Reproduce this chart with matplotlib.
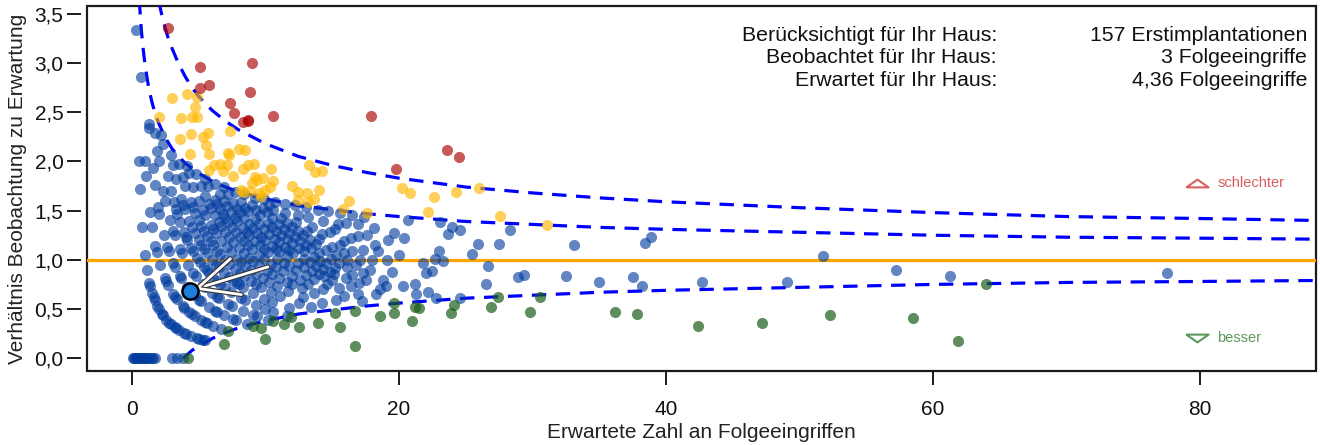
import matplotlib
matplotlib.use('Agg')
import matplotlib.pyplot as plt
import matplotlib.patheffects as pe
from matplotlib.ticker import FuncFormatter
import numpy as np

plt.rcParams['font.family'] = ['Liberation Sans', 'DejaVu Sans']

# ── colours ──
BLUE = '#003C9E'
YELLOW = '#FFB800'
RED = '#AA0000'
GREEN = '#1A5E1A'
FUNNEL = '#0000FF'
ORANGE = '#FFA500'

# ── data: expected (E) and observed (O) revisions per hospital; ratio = O / E ──
# blue hospitals (within limits), grouped by observed count: arcs_exp[k] -> E values with O = k
arcs_exp = [
    [0.05, 0.15, 0.25, 0.35, 0.45, 0.55, 0.65, 0.75, 0.85, 0.95, 1.05, 1.15, 1.3, 1.45, 1.6, 1.75, 3.0, 3.4, 3.8],
    [0.3, 0.5, 0.58, 0.75, 0.95, 1.12, 1.3, 1.36, 1.5, 1.62, 1.7, 1.9, 2.0, 2.25, 2.3, 2.55, 2.8, 2.9, 3.2, 3.3,
     3.5, 3.9, 4.05, 4.4, 4.9, 5.0, 5.3, 5.5],
    [0.7, 1.0, 1.08, 1.35, 1.5, 1.75, 1.85, 2.1, 2.45, 2.55, 2.7, 3.05, 3.2, 3.35, 3.8, 3.9, 4.3, 4.5, 4.7, 5.15,
     5.5, 5.6, 6.1, 6.7],
    [1.26, 1.28, 1.55, 1.7, 1.95, 2.05, 2.4, 2.65, 2.75, 3.1, 3.25, 3.6, 3.7, 4.15, 4.55, 4.7, 5.05, 5.2, 5.75,
     6.2, 6.35, 6.9, 7.6, 7.8, 8.6],
    [1.75, 1.9, 2.0, 2.35, 2.5, 2.85, 3.1, 3.2, 3.6, 3.75, 4.2, 4.6, 4.8, 5.3, 5.5, 6.0, 6.4, 6.5, 7.2, 7.5, 8.3,
     9.1, 9.4, 10.2],
    [2.2, 2.3, 2.7, 2.95, 3.3, 3.4, 3.9, 4.15, 4.45, 4.6, 5.1, 5.4, 5.8, 6.1, 6.6, 7.0, 7.4, 8.2, 8.5, 9.3, 10.0,
     10.6, 11.6, 3.15, 3.6, 4.05, 4.9, 5.6, 6.4],
    [2.9, 3.05, 3.3, 3.7, 3.85, 4.3, 4.5, 5.0, 5.2, 5.6, 6.0, 6.3, 6.9, 7.3, 7.9, 8.3, 9.1, 9.9, 10.5, 11.8,
     3.95, 4.7, 5.4, 6.5, 7.6, 8.0],
    [3.55, 3.8, 4.0, 4.4, 4.75, 5.0, 5.4, 5.65, 6.1, 6.6, 7.0, 7.7, 8.1, 8.9, 9.7, 10.4, 11.1, 12.5, 13.4,
     4.55, 5.2, 5.9, 6.4, 7.3, 8.4, 9.3],
    [4.1, 4.25, 4.6, 5.0, 5.3, 5.9, 6.3, 6.7, 7.1, 7.9, 8.5, 9.3, 9.8, 10.9, 11.7, 12.8, 14.2,
     5.5, 6.1, 7.4, 8.2, 8.9, 10.3],
    [4.8, 5.15, 5.45, 5.9, 6.2, 6.7, 7.0, 7.6, 8.0, 8.8, 9.5, 10.1, 11.0, 11.6, 12.7, 13.6, 15.3,
     5.75, 6.5, 7.3, 8.4, 9.1, 10.5, 12.0],
    [5.5, 5.7, 6.2, 6.6, 7.0, 7.5, 7.8, 8.4, 9.0, 9.9, 10.4, 11.3, 12.0, 13.2, 14.3, 15.9, 17.2,
     6.4, 6.8, 7.2, 8.1, 8.7, 9.5, 10.8, 12.6],
    [6.2, 6.6, 6.9, 7.4, 7.9, 8.3, 8.8, 9.6, 10.2, 10.9, 11.4, 12.3, 13.0, 14.6, 15.5, 16.9,
     7.1, 7.7, 8.6, 9.2, 9.9, 11.8, 13.6],
    [6.9, 7.2, 7.9, 8.4, 8.8, 9.4, 10.0, 10.5, 11.0, 11.6, 12.4, 13.5, 14.4, 15.0, 16.4, 18.3,
     7.6, 8.1, 9.1, 9.7, 10.8, 12.9, 14.0],
    [7.7, 8.2, 8.7, 9.2, 9.9, 10.3, 11.0, 11.5, 12.1, 12.9, 13.8, 14.3, 15.1, 16.0, 17.0, 18.6,
     8.5, 9.5, 10.7, 11.8, 13.3, 14.8],
    [8.4, 9.0, 9.6, 10.2, 10.8, 11.6, 12.0, 12.9, 13.6, 14.5, 15.2, 16.5, 17.5, 19.0,
     9.3, 10.5, 11.2, 12.5, 14.1],
    [9.2, 9.8, 10.5, 11.0, 11.8, 12.6, 13.4, 14.0, 14.9, 16.1, 17.3, 18.8,
     10.1, 11.4, 12.2, 13.0, 15.5],
    [9.9, 10.6, 11.2, 12.0, 12.8, 13.3, 14.5, 15.3, 16.8, 17.8,
     10.3, 11.6, 12.4, 13.8, 16.1],
    [10.7, 11.5, 12.3, 13.1, 14.0, 15.0, 15.9, 17.1, 19.5],
    [11.5, 12.4, 13.5, 14.2, 15.6, 16.5, 18.0],
    [12.2, 13.2, 14.8, 15.9, 17.3, 19.1],
    [13.0, 14.3, 15.2, 16.4, 18.4],
    [13.9, 15.4, 16.9, 18.2, 20.0],
    [14.7, 16.0, 17.6],
    [15.6, 16.9, 19.2],
    [16.5, 18.1],
    [17.4, 19.6],
]

# blue hospitals with larger expected counts
blue_exp = [20.7, 23.1, 24.0, 23.7, 24.6, 20.4, 28.3, 25.9, 27.5, 33.1, 38.4, 38.9, 23.0, 22.7, 23.3, 21.8,
            25.5, 26.7, 22.5, 22.0, 28.9, 29.4, 32.5, 35.0, 37.5, 38.2, 42.7, 49.1, 51.8, 26.5, 24.6, 20.3,
            21.2, 21.3, 22.2, 22.8, 57.2, 61.3, 77.5]
blue_obs = [29, 32, 32, 30, 32, 25, 37, 30, 32, 38, 45, 48, 25, 23, 23, 21,
            27, 25, 20, 19, 24, 25, 27, 27, 31, 28, 33, 38, 54, 20, 15, 15,
            16, 14, 15, 14, 51, 51, 67]

yellow_exp = [2.04, 3.02, 4.1, 4.89, 4.7, 3.69, 4.49, 4.9, 3.59, 4.39, 5.33, 5.68, 5.53, 7.36, 4.33, 5.77,
              7.25, 7.98, 8.49, 5.76, 6.12, 6.57, 7.14, 6.84, 7.57, 8.33, 8.67, 9.14, 8.99, 9.24, 9.84, 10.4,
              10.56, 8.82, 8.3, 9.52, 10.34, 12.0, 12.43, 13.1, 14.0, 12.4, 13.6, 13.27, 13.7, 14.2, 16.25,
              15.8, 17.57, 20.2, 20.8, 22.6, 22.15, 24.3, 26.0, 27.6, 31.1, 13.2, 7.18, 9.4, 9.94, 8.2, 9.7]
yellow_obs = [5, 8, 11, 13, 12, 9, 11, 12, 8, 10, 12, 13, 12, 17, 9, 12,
              15, 17, 18, 11, 12, 13, 14, 13, 14, 16, 17, 18, 16, 17, 18, 20,
              19, 15, 14, 16, 18, 21, 21, 22, 24, 20, 22, 26, 26, 27, 26,
              24, 26, 35, 35, 37, 33, 41, 45, 40, 42, 21, 15, 17, 17, 14, 16]

red_exp = [2.68, 5.07, 9.0, 5.09, 5.76, 7.31, 7.63, 8.86, 8.33, 8.71, 8.68, 10.57, 17.89, 23.58, 19.79, 24.5]
red_obs = [9, 15, 27, 14, 16, 19, 19, 24, 20, 21, 21, 26, 44, 50, 38, 50]

green_exp = [4.2, 6.9, 7.2, 9.1, 9.7, 10.0, 10.6, 11.9, 11.4, 12.5, 13.9, 15.2, 15.6, 16.7, 16.7, 18.6,
             19.6, 19.6, 21.0, 21.2, 21.5, 23.9, 24.1, 27.4, 26.9, 29.8, 30.6, 36.2, 37.8, 42.4, 47.2,
             52.3, 58.5, 61.9, 64.0]
green_obs = [0, 1, 2, 3, 3, 2, 4, 5, 4, 4, 5, 7, 5, 8, 2, 8,
             11, 9, 8, 11, 11, 11, 13, 17, 14, 14, 19, 17, 17, 14, 17,
             23, 24, 11, 48]

# own hospital
own_exp = 4.36
own_obs = 3
own_cases = 157

# funnel limits
outer_e = [2.0, 2.2, 2.5, 2.7, 3.0, 3.5, 4.0, 4.5, 5, 6, 7, 8, 10, 12.5, 15, 17.5, 20, 25, 30, 35, 40, 50, 60,
           70, 80, 88.7]
outer_up = [3.63, 3.51, 3.35, 3.26, 3.15, 2.99, 2.86, 2.75, 2.66, 2.52, 2.41, 2.32, 2.18, 2.05, 1.96, 1.89,
            1.83, 1.74, 1.68, 1.63, 1.59, 1.53, 1.48, 1.44, 1.42, 1.40]
inner_e = [0.55, 0.6, 0.7, 0.8, 0.9, 1.0, 1.25, 1.5, 1.75, 2.0, 2.5, 3, 3.5, 4, 5, 6, 7, 8, 10, 12.5, 15, 17.5,
           20, 25, 30, 35, 40, 50, 60, 70, 80, 88.7]
inner_up = [3.64, 3.53, 3.34, 3.19, 3.07, 2.96, 2.75, 2.60, 2.48, 2.39, 2.24, 2.13, 2.05, 1.98, 1.88, 1.80,
            1.74, 1.69, 1.62, 1.55, 1.51, 1.47, 1.44, 1.39, 1.36, 1.33, 1.31, 1.28, 1.25, 1.23, 1.22, 1.21]
lower_e = [3.84, 4, 4.5, 5, 6, 7, 8, 10, 12.5, 15, 17.5, 20, 25, 30, 35, 40, 50, 60, 70, 80, 88.7]
lower_lo = [0.0, 0.02, 0.08, 0.12, 0.20, 0.26, 0.31, 0.38, 0.45, 0.49, 0.53, 0.56, 0.61, 0.64, 0.67, 0.69,
            0.72, 0.75, 0.77, 0.78, 0.79]

# ── figure ──
fig = plt.figure(figsize=(13.2, 4.45), dpi=100)
ax = fig.add_axes([0.0659, 0.1663, 0.9311, 0.8202])
ax.set_xlim(-3.37, 88.7)
ax.set_ylim(-0.13, 3.58)

ax.axhline(1.0, color=ORANGE, lw=2.3, zorder=1)
dash = dict(color=FUNNEL, lw=2.3, dashes=(4.5, 3), zorder=2)
ax.plot(outer_e, outer_up, **dash)
ax.plot(inner_e, inner_up, **dash)
ax.plot(lower_e, lower_lo, **dash)

S = 64
arc_e = np.concatenate([np.array(v, float) for v in arcs_exp])
arc_o = np.concatenate([np.full(len(v), k) for k, v in enumerate(arcs_exp)])
be = np.concatenate([arc_e, blue_exp])
bo = np.concatenate([arc_o, blue_obs])
ax.scatter(be, bo / be, s=S, color=BLUE, alpha=0.62, lw=0, zorder=3)
ye, yo = np.array(yellow_exp), np.array(yellow_obs)
ax.scatter(ye, yo / ye, s=S, color=YELLOW, alpha=0.65, lw=0, zorder=3)
re_, ro = np.array(red_exp), np.array(red_obs)
ax.scatter(re_, ro / re_, s=S, color=RED, alpha=0.65, lw=0, zorder=3)
ge, go = np.array(green_exp), np.array(green_obs)
ax.scatter(ge, go / ge, s=S, color=GREEN, alpha=0.7, lw=0, zorder=3)

# own hospital + arrow
own_ratio = own_obs / own_exp
ax.annotate('', xy=(own_exp, own_ratio), xytext=(56, 17), textcoords='offset points',
            arrowprops=dict(arrowstyle='->,head_length=2.9,head_width=1.35', color='white', lw=2,
                            shrinkA=0, shrinkB=3,
                            path_effects=[pe.Stroke(linewidth=3.6, foreground='#333333'), pe.Normal()]),
            zorder=5)
ax.scatter([own_exp], [own_ratio], s=135, color='#1C7FE0', edgecolor='black', lw=1.8, zorder=6)

# legend markers
tri_up = [(-1, -0.35), (1, -0.35), (0, 0.35), (-1, -0.35)]
tri_dn = [(-1, 0.35), (1, 0.35), (0, -0.35), (-1, 0.35)]
ax.plot([79.8], [1.78], marker=tri_up, ms=16, mfc='none', mec='#D65F5F', mew=1.5, ls='none')
ax.plot([79.8], [0.21], marker=tri_dn, ms=16, mfc='none', mec='#5B9A5B', mew=1.5, ls='none')
ax.text(81.3, 1.78, 'schlechter', color='#D65F5F', fontsize=10.5, va='center', ha='left')
ax.text(81.3, 0.21, 'besser', color='#5B9A5B', fontsize=10.5, va='center', ha='left')

# info block
labels = ['Berücksichtigt für Ihr Haus:', 'Beobachtet für Ihr Haus:', 'Erwartet für Ihr Haus:']
values = [f'{own_cases} Erstimplantationen', f'{own_obs} Folgeeingriffe',
          f'{own_exp:.2f}'.replace('.', ',') + ' Folgeeingriffe']
for i, (lab, val) in enumerate(zip(labels, values)):
    yy = 0.9205 - i * 0.062
    ax.text(0.7404, yy, lab, transform=ax.transAxes, ha='right', va='center', fontsize=15.3, color='#111111')
    ax.text(0.9927, yy, val, transform=ax.transAxes, ha='right', va='center', fontsize=15.3, color='#111111')

# axes styling: frame via patch, ticks R-style
for s in ax.spines.values():
    s.set_visible(False)
ax.spines['left'].set_position(('outward', 4))
ax.patch.set_edgecolor('#1a1a1a')
ax.patch.set_linewidth(1.6)
ax.set_xticks([0, 20, 40, 60, 80])
ax.set_yticks(np.arange(0, 3.51, 0.5))
ax.yaxis.set_major_formatter(FuncFormatter(lambda v, p: f'{v:.1f}'.replace('.', ',')))
ax.tick_params(axis='both', length=10, width=1.4, color='#1a1a1a', labelsize=15, labelcolor='#111111')
ax.tick_params(axis='x', pad=11)
ax.tick_params(axis='y', pad=3)
ax.set_xlabel('Erwartete Zahl an Folgeeingriffen', fontsize=15, color='#222222', labelpad=3)
ax.set_ylabel('Verhältnis Beobachtung zu Erwartung', fontsize=15, color='#222222', labelpad=5)

fig.savefig('out.png', dpi=100, facecolor='white')
